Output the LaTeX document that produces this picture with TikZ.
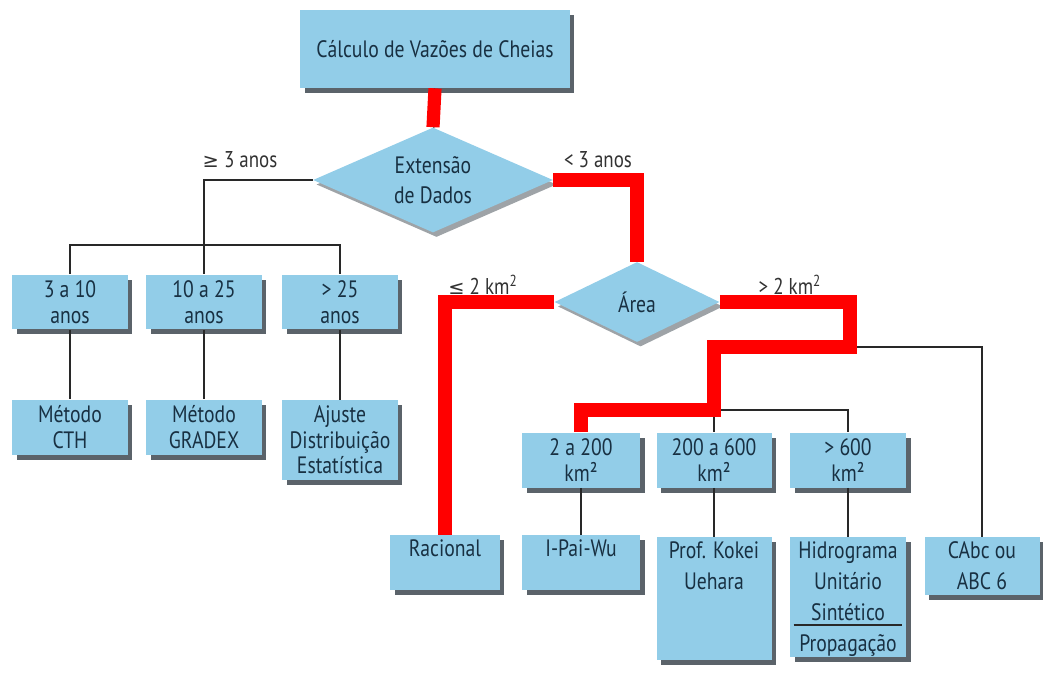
\documentclass[tikz,border=0pt]{standalone}
\usepackage{fontspec}
\setmainfont{PT Sans}[FakeStretch=0.83]
\newfontfamily\simbolo{DejaVu Sans}[Scale=0.85]
\usepackage{tikz}
\usetikzlibrary{shapes.geometric,shadows,calc}

\definecolor{azulcaixa}{RGB}{146,205,232}
\definecolor{azultexto}{RGB}{24,48,66}
\definecolor{sombra}{RGB}{62,72,80}
\definecolor{cinzalinha}{RGB}{40,40,40}
\definecolor{cinzarotulo}{RGB}{50,50,50}

% texto alinhado ao topo da caixa
\newcommand{\celula}[2]{\parbox[t][#1][t]{2.2cm}{\centering\strut #2}}

\begin{document}
\begin{tikzpicture}
[x=0.02cm, y=-0.02cm,
caixa/.style={rectangle, fill=azulcaixa, text=azultexto, inner sep=0pt,
  minimum width=2.32cm, minimum height=1.1cm, align=center,
  font=\fontsize{13.5}{14.5}\selectfont,
  drop shadow={shadow xshift=0.09cm, shadow yshift=-0.1cm, fill=sombra, opacity=0.85}},
folha/.style={caixa, anchor=north, minimum height=0pt,
  font=\fontsize{13.5}{17.5}\selectfont},
losango/.style={diamond, fill=azulcaixa, text=azultexto, inner sep=0pt, aspect=2.3,
  align=center, font=\fontsize{13.5}{17}\selectfont,
  drop shadow={shadow xshift=0.07cm, shadow yshift=-0.09cm, fill=sombra, opacity=0.5}},
rotulo/.style={text=cinzarotulo, font=\fontsize{13}{14}\selectfont},
linha/.style={draw=cinzalinha, line width=0.8pt},
destaque/.style={draw=red, line width=7.5pt, line join=miter}]

\useasboundingbox (0,0) rectangle (1043,679);

\node (calculo) at (435,49) [caixa, minimum width=5.4cm, minimum height=1.56cm] {Cálculo de Vazões de Cheias};
\node (extensao) at (433,180) [losango, minimum width=4.8cm, minimum height=2.1cm] {Extensão\\de Dados};
\node (area) at (637,302) [losango, minimum width=3.3cm, minimum height=1.6cm] {Área};

% ramo com mais de 3 anos de dados
\node (anos3) at (70,302) [caixa] {3 a 10\\anos};
\node (anos10) at (204,302) [caixa] {10 a 25\\anos};
\node (anos25) at (340,302) [caixa] {> 25\\anos};
\node (cth) at (70,427) [caixa] {Método\\CTH};
\node (gradex) at (204,427) [caixa] {Método\\GRADEX};
\node (ajuste) at (340,440) [caixa, minimum height=1.6cm] {Ajuste\\Distribuição\\Estatística};

% ramo por area da bacia
\node (km2) at (581,460) [caixa, minimum width=2.36cm] {2 a 200\\km²};
\node (km200) at (714,460) [caixa, minimum width=2.3cm] {200 a 600\\km²};
\node (km600) at (848,460) [caixa] {> 600\\km²};
\node (racional) at (445,535) [folha, minimum width=2.2cm] {\celula{1.1cm}{Racional}};
\node (ipaiwu) at (581,535) [folha, minimum width=2.36cm] {\celula{1.1cm}{I-Pai-Wu}};
\node (kokei) at (714,537) [folha, minimum width=2.3cm] {\celula{2.46cm}{Prof. Kokei\\Uehara}};
\node (hidrograma) at (848,537) [folha] {\celula{2.4cm}{Hidrograma\\Unitário\\Sintético\\Propagação}};
\node (cabc) at (982,537) [folha, minimum width=2.3cm] {\celula{1.16cm}{CAbc ou\\ABC 6}};

\node (lmaior3) at (240,160) [rotulo] {{\simbolo ≥} 3 anos};
\node (lmenor3) at (598,160) [rotulo] {< 3 anos};
\node (lmenor2) at (483,285) [rotulo] {{\simbolo ≤} 2 km\textsuperscript{2}};
\node (lmaior2) at (790,285) [rotulo] {> 2 km\textsuperscript{2}};

\coordinate (barra1) at (204,245);
\coordinate (juncao) at (850,347);
\coordinate (barra2) at (714,410);

\draw [linha] (calculo) -- (extensao);
\draw [linha] (extensao.west) -| (anos10.north);
\draw [linha] (anos3.north) |- (barra1) -| (anos25.north);
\draw [linha] (anos3) -- (cth);
\draw [linha] (anos10) -- (gradex);
\draw [linha] (anos25) -- (ajuste);

\draw [linha] (extensao.east) -| (area.north);
\draw [linha] (area.west) -| (racional.north);
\draw [linha] (area.east) -| (juncao) -| (cabc.north);
\draw [linha] (juncao) -| (barra2);
\draw [linha] (km2.north) |- (barra2) -| (km600.north);
\draw [linha] (barra2) -- (km200.north);
\draw [linha] (km2) -- (ipaiwu);
\draw [linha] (km200) -- (kokei);
\draw [linha] (km600) -- (hidrograma);

\draw [linha, line width=1pt] ($(hidrograma.south west)+(4,-33)$) -- ($(hidrograma.south east)+(-4,-33)$);

% caminho escolhido
\draw [destaque] (calculo.south) -- (extensao.north);
\draw [destaque] (extensao.east) -| (area.north);
\draw [destaque] (area.west) -| (racional.north);
\draw [destaque] (area.east) -| (juncao) -| (barra2) -| (km2.north);

\end{tikzpicture}
\end{document}
